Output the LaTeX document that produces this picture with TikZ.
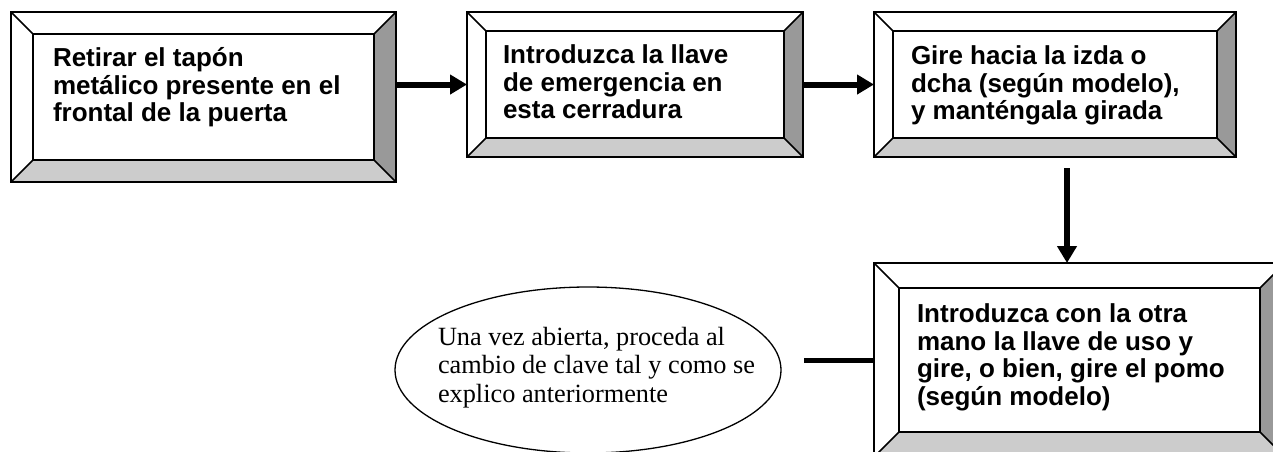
\documentclass[tikz,border=0pt]{standalone}
\usepackage{fontspec}
\setmainfont{Liberation Serif}
\newfontfamily\boxfont{Liberation Sans}
\usetikzlibrary{arrows.meta,calc,shapes.geometric}
\definecolor{bevdark}{HTML}{999999}
\definecolor{bevlight}{HTML}{CCCCCC}
\newcommand\bevelize[2]{%
  \fill[bevdark] (#1.north east) -- (#1.south east) -- ($(#1.south east)+(-#2,-#2)$) -- ($(#1.north east)+(-#2,#2)$) -- cycle;
  \fill[bevlight] (#1.south west) -- (#1.south east) -- ($(#1.south east)+(-#2,-#2)$) -- ($(#1.south west)+(#2,-#2)$) -- cycle;
  \draw[edge] ($(#1.north west)+(#2,#2)$) rectangle ($(#1.south east)+(-#2,-#2)$);
  \draw[edge] (#1.north west) -- ($(#1.north west)+(#2,#2)$);
  \draw[edge] (#1.north east) -- ($(#1.north east)+(-#2,#2)$);
  \draw[edge] (#1.south west) -- ($(#1.south west)+(#2,-#2)$);
  \draw[edge] (#1.south east) -- ($(#1.south east)+(-#2,-#2)$);
  \draw[edge] (#1.north west) rectangle (#1.south east);
}
\tikzset{
  edge/.style={line width=1.6pt, draw=black},
  bevelbox/.style={rectangle, fill=white, inner sep=0pt, outer sep=0pt},
  boxtext/.style={anchor=base west, inner sep=0pt, outer sep=0pt,
    font=\boxfont\bfseries\fontsize{26}{27.5}\selectfont},
  ovaltext/.style={anchor=base west, inner sep=0pt, outer sep=0pt,
    font=\fontsize{26.3}{28.5}\selectfont},
  arr/.style={line width=6pt, -{Triangle[length=17pt,width=19pt]}},
  conn/.style={line width=5pt},
}
\begin{document}
\begin{tikzpicture}[x=1pt,y=-1pt]
\useasboundingbox[fill=white] (0,0) rectangle (1273,451);

\node[bevelbox, minimum width=385pt, minimum height=170pt] (b1) at (203.5,97) {};
\node[bevelbox, minimum width=336pt, minimum height=145pt] (b2) at (635,84.5) {};
\node[bevelbox, minimum width=362pt, minimum height=145pt] (b3) at (1055,84.5) {};
\node[bevelbox, minimum width=411pt, minimum height=194pt] (b4) at (1079.5,360) {};
\bevelize{b1}{22}
\bevelize{b2}{19}
\bevelize{b3}{19}
\bevelize{b4}{25}

\node[boxtext] (t1) at (53,66.7) {\parbox[t]{330pt}{\raggedright Retirar el tapón\\metálico presente en el\\frontal de la puerta}};
\node[boxtext] (t2) at (503,63.5) {\parbox[t]{280pt}{\raggedright Introduzca la llave\\de emergencia en\\esta cerradura}};
\node[boxtext] (t3) at (911,64.5) {\parbox[t]{300pt}{\raggedright Gire hacia la izda o\\dcha (según modelo),\\y manténgala girada}};
\node[boxtext] (t4) at (917,322.5) {\parbox[t]{340pt}{\raggedright Introduzca con la otra\\mano la llave de uso y\\gire, o bien, gire el pomo\\(según modelo)}};

\node[draw, ellipse, line width=1.3pt, minimum width=386pt, minimum height=166pt, inner sep=0pt, outer sep=0pt] (e) at (588,370) {};
\node[ovaltext] (t5) at (438,345) {\parbox[t]{340pt}{\raggedright Una vez abierta, proceda al\\cambio de clave tal y como se\\explico anteriormente}};

\draw[arr] (b1.east |- b2.west) -- (b2.west);
\draw[arr] (b2.east) -- (b3.west);
\coordinate (a3) at (1067,168);
\draw[arr] (a3) -- (a3 |- b4.north);
\coordinate (l4) at (804,360);
\draw[conn] (l4) -- (b4.west);
\end{tikzpicture}
\end{document}
